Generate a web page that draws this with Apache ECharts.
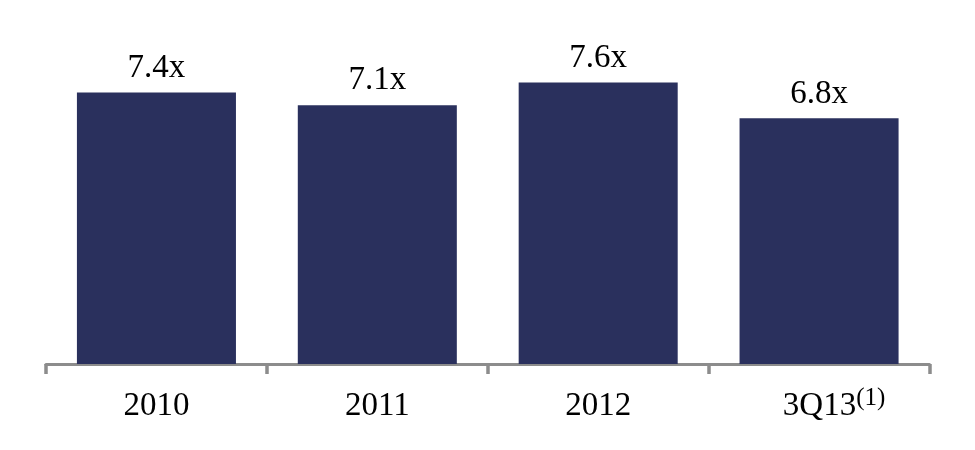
<!DOCTYPE html>
<html>
<head>
<meta charset="utf-8">
<script src="https://cdn.jsdelivr.net/npm/echarts@6/dist/echarts.min.js"></script>
<style>html,body{margin:0;padding:0;background:#fff}#c{width:975px;height:450px}</style>
</head>
<body>
<div id="c"></div>
<script>
var categories = ['2010', '2011', '2012', '3Q13'];
var values = [7.43, 7.08, 7.70, 6.72];
var valueLabels = ['7.4x', '7.1x', '7.6x', '6.8x'];
var footnotes = ['', '', '', '(1)'];

var chart = echarts.init(document.getElementById('c'));
chart.setOption({
  animation: false,
  grid: { left: 46, right: 45.5, top: 35, bottom: 86 },
  xAxis: {
    type: 'category',
    data: categories,
    offset: 2,
    axisLine: { lineStyle: { color: '#8c8c8c', width: 3 } },
    axisTick: { show: true, interval: 0, length: 10, lineStyle: { color: '#8c8c8c', width: 3.5 } },
    axisLabel: {
      interval: 0,
      hideOverlap: false,
      margin: 20,
      color: '#000',
      fontFamily: 'Liberation Serif',
      fontSize: 33,
      formatter: function (v, i) {
        if (footnotes[i]) return '{pad| }{m|' + v + '}{sup|' + footnotes[i] + '}';
        return '{m|' + v + '}';
      },
      rich: {
        m: { fontFamily: 'Liberation Serif', fontSize: 33, lineHeight: 41, color: '#000' },
        pad: { width: 30, fontSize: 33, lineHeight: 41 },
        sup: { fontFamily: 'Liberation Serif', fontSize: 25, lineHeight: 25, color: '#000', verticalAlign: 'top' }
      }
    }
  },
  yAxis: {
    type: 'value', min: 0, max: 9, show: false,
    splitLine: { show: false }
  },
  series: [{
    type: 'bar',
    data: values,
    barCategoryGap: '28%',
    itemStyle: { color: '#2a305d' },
    label: {
      show: true,
      position: 'top',
      distance: 8,
      color: '#000',
      fontFamily: 'Liberation Serif',
      fontSize: 33,
      formatter: function (p) { return valueLabels[p.dataIndex]; }
    }
  }]
});
</script>
</body>
</html>
